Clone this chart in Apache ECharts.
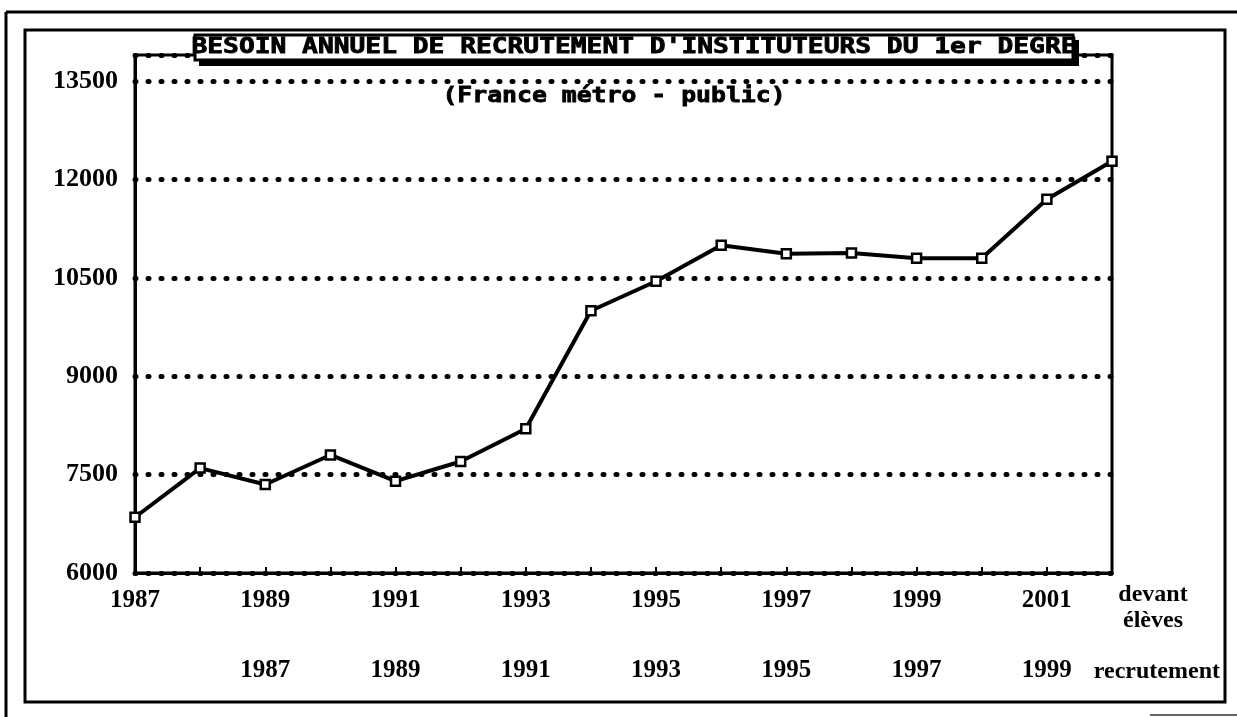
<!DOCTYPE html>
<html><head><meta charset="utf-8">
<script src="https://cdn.jsdelivr.net/npm/echarts@6/dist/echarts.min.js"></script>
<style>html,body{margin:0;padding:0;background:#fff}#c{width:1237px;height:717px}</style>
</head><body><div id="c"></div>
<script>
// ---- data ----
const years = ['1987','1988','1989','1990','1991','1992','1993','1994','1995','1996','1997','1998','1999','2000','2001','2002'];
const besoin = [6850, 7600, 7350, 7800, 7400, 7700, 8200, 10000, 10450, 11000, 10870, 10880, 10800, 10800, 11700, 12280];
const recruitLabels = ['', '', '1987', '', '1989', '', '1991', '', '1993', '', '1995', '', '1997', '', '1999', ''];
const yMin = 6000, yMax = 13900, yInterval = 1500;
const titleText = "BESOIN ANNUEL DE RECRUTEMENT D'INSTITUTEURS DU 1er DEGRE";
const subtitleText = "(France métro - public)";
const rowLabelTop = "devant\nélèves";
const rowLabelBottom = "recrutement";

const serif = '"Liberation Serif", "Times New Roman", serif';
const mono = '"DejaVu Sans Mono", "Liberation Mono", monospace';

const chart = echarts.init(document.getElementById('c'), null, {renderer: 'canvas'});
chart.setOption({
  backgroundColor: '#ffffff',
  animation: false,
  grid: {left: 135, right: 125, top: 55, bottom: 144, show: true, borderColor: '#000', borderWidth: 3, backgroundColor: 'transparent'},
  xAxis: [{
    type: 'category', data: years, boundaryGap: false, position: 'bottom',
    axisLine: {show: true, lineStyle: {color: '#000', width: 3}},
    axisTick: {show: true, inside: true, length: 6, interval: 0, lineStyle: {color: '#000', width: 2}},
    axisLabel: {interval: 1, margin: 15, color: '#000', fontFamily: serif, fontWeight: 'bold', fontSize: 25},
    splitLine: {show: false}
  }, {
    type: 'category', data: years, boundaryGap: false, position: 'bottom', offset: 70,
    axisLine: {show: false}, axisTick: {show: false},
    axisLabel: {interval: 0, margin: 15, color: '#000', fontFamily: serif, fontWeight: 'bold', fontSize: 25,
      formatter: (v, i) => recruitLabels[i]},
    splitLine: {show: false}
  }],
  yAxis: {
    type: 'value', min: yMin, max: yMax, interval: yInterval,
    axisLine: {show: true, lineStyle: {color: '#000', width: 3}},
    axisTick: {show: false},
    axisLabel: {showMaxLabel: false, margin: 17, color: '#000', fontFamily: serif, fontWeight: 'bold', fontSize: 26,
      formatter: v => String(v)},
    splitLine: {show: true, lineStyle: {color: '#000', width: 5, type: [1, 12], cap: 'round'}}
  },
  series: [{
    type: 'line', xAxisIndex: 0, data: besoin,
    lineStyle: {color: '#000', width: 4},
    symbol: 'rect', symbolSize: 9,
    itemStyle: {color: '#fff', borderColor: '#000', borderWidth: 2.5},
    z: 5
  }],
  graphic: [
    // outer frame
    {type: 'line', z: 100, shape: {x1: 6, y1: 12, x2: 1237, y2: 12}, style: {stroke: '#000', lineWidth: 3}},
    {type: 'line', z: 100, shape: {x1: 6, y1: 12, x2: 6, y2: 717}, style: {stroke: '#000', lineWidth: 3}},
    {type: 'line', z: 100, shape: {x1: 1150, y1: 715, x2: 1237, y2: 715}, style: {stroke: '#666', lineWidth: 2}},
    // inner frame
    {type: 'rect', z: 100, shape: {x: 25, y: 30, width: 1200, height: 672}, style: {fill: 'none', stroke: '#000', lineWidth: 3}},
    // title box shadow + box
    {type: 'rect', z: 101, shape: {x: 199, y: 40, width: 880, height: 26}, style: {fill: '#000'}},
    {type: 'rect', z: 102, shape: {x: 195, y: 35, width: 878, height: 25}, style: {fill: '#fff', stroke: '#000', lineWidth: 3}},
    {type: 'text', z: 103, x: 634, y: 48, scaleX: 1.25,
      style: {text: titleText, fill: '#000', stroke: '#000', lineWidth: 0.8, font: 'bold 21px ' + mono, textAlign: 'center', textVerticalAlign: 'middle'}},
    {type: 'text', z: 103, x: 614, y: 97, scaleX: 1.18,
      style: {text: subtitleText, fill: '#000', stroke: '#000', lineWidth: 0.8, font: 'bold 21px ' + mono, textAlign: 'center', textVerticalAlign: 'middle'}},
    {type: 'text', z: 103, x: 1153, y: 608,
      style: {text: rowLabelTop, fill: '#000', font: 'bold 24px ' + serif, textAlign: 'center', textVerticalAlign: 'middle', lineHeight: 26}},
    {type: 'text', z: 103, x: 1220, y: 672,
      style: {text: rowLabelBottom, fill: '#000', font: 'bold 24px ' + serif, textAlign: 'right', textVerticalAlign: 'middle'}}
  ]
});
</script>
</body></html>
